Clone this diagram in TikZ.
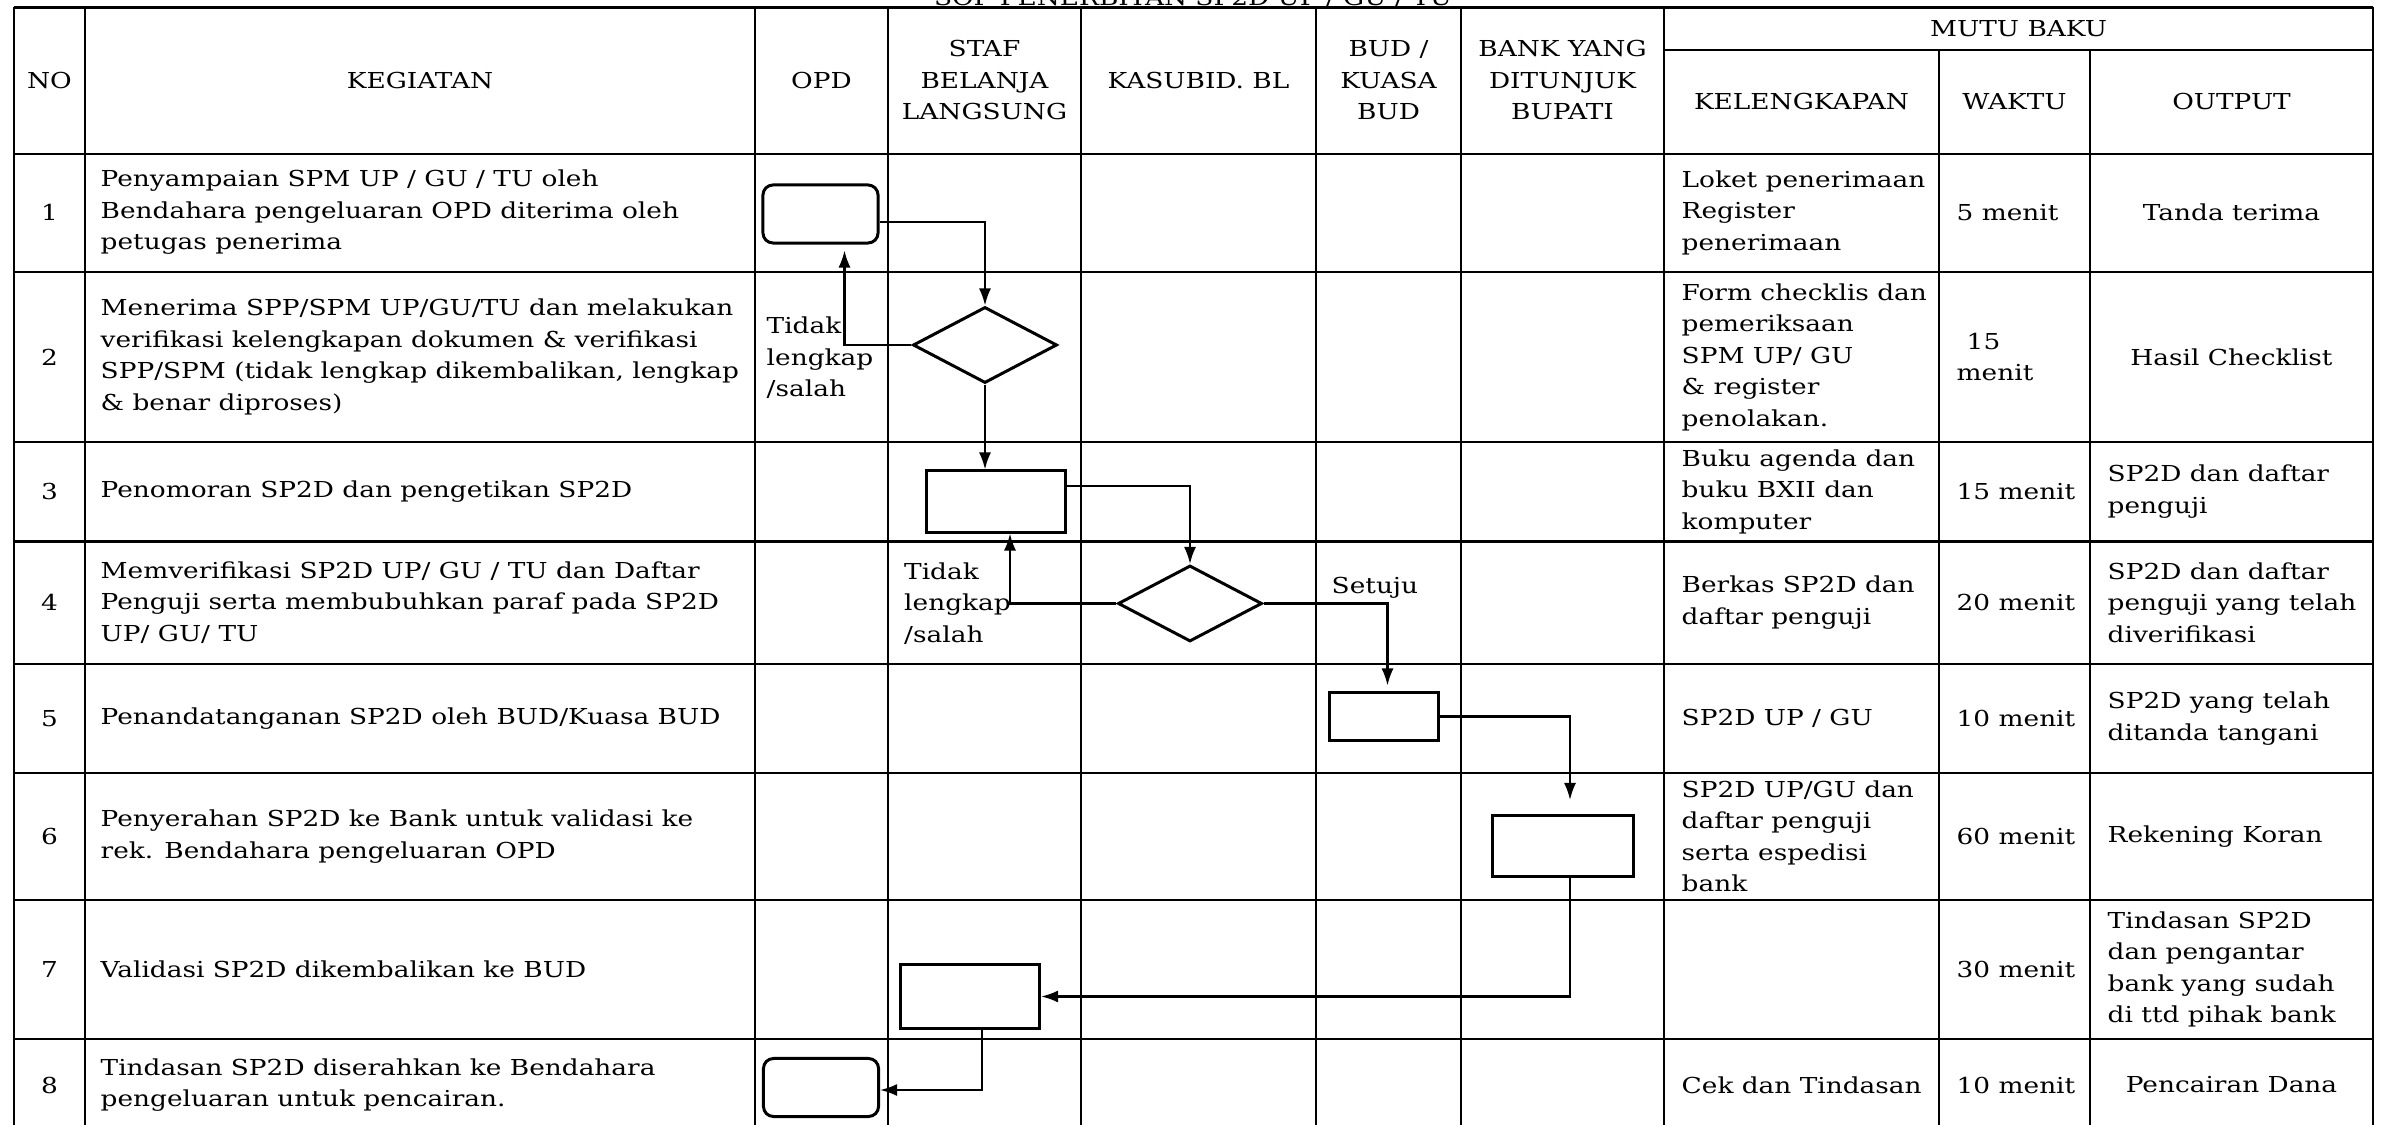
\documentclass[tikz,border=0pt]{standalone}
\usepackage{fontspec}
\setmainfont{DejaVu Serif}[FakeStretch=1.2]
\usetikzlibrary{shapes.geometric,arrows.meta}
\newcommand{\sopfont}{\fontsize{6.25}{8.96}\selectfont}
\begin{document}
\begin{tikzpicture}[x=0.01cm,y=-0.01cm,
  gridline/.style={line width=0.8pt},
  txt/.style={inner sep=0pt, align=left, anchor=west, font=\sopfont},
  ctr/.style={inner sep=0pt, align=center, font=\sopfont},
  opdbox/.style={draw, line width=0.85pt, rounded corners=0.1cm, minimum width=1.15cm, minimum height=0.58cm, inner sep=0pt},
  procbox/.style={draw, line width=0.85pt, inner sep=0pt},
  decision/.style={draw, diamond, line width=0.85pt, minimum width=1.44cm, minimum height=0.76cm, inner sep=0pt},
  conn/.style={line width=0.6pt, -{Latex[length=0.17cm,width=0.12cm]}},
]
\useasboundingbox (0,0) rectangle (2381,1125);
\fill[white] (0,0) rectangle (2381,1125);
% title (partially cut at top, as in the reference)
\node[font=\sopfont, anchor=base, inner sep=0pt] (title) at (1193,6) {SOP PENERBITAN SP2D UP / GU / TU};
% grid
\foreach \yy in {7.5,154,272,442,541.5,664,773,900,1039,1131}
  \draw[gridline] (14,\yy) -- (2373,\yy);
\draw[gridline] (1664,50) -- (2373,50);
\foreach \xx in {14,85,755,888,1081,1316,1461,1664,2373}
  \draw[gridline] (\xx,7.5) -- (\xx,1131);
\foreach \xx in {1939,2090}
  \draw[gridline] (\xx,50) -- (\xx,1131);
% header
\node[ctr] (hno) at (49.5,80.5) {NO};
\node[ctr] (hkeg) at (420,80.5) {KEGIATAN};
\node[ctr] (hopd) at (821.5,80.5) {OPD};
\node[ctr] (hstaf) at (984.5,80.5) {STAF\\BELANJA\\LANGSUNG};
\node[ctr] (hkas) at (1198.5,80.5) {KASUBID. BL};
\node[ctr] (hbud) at (1388.5,80.5) {BUD /\\KUASA\\BUD};
\node[ctr] (hbank) at (1562.5,80.5) {BANK YANG\\DITUNJUK\\BUPATI};
\node[ctr] (hmutu) at (2018.5,28.5) {MUTU BAKU};
\node[ctr] (hkel) at (1801.5,102) {KELENGKAPAN};
\node[ctr] (hwak) at (2014.5,102) {WAKTU};
\node[ctr] (hout) at (2231.5,102) {OUTPUT};
% numbers
\node[ctr] (n1) at (49.5,212.5) {1};
\node[ctr] (n2) at (49.5,357) {2};
\node[ctr] (n3) at (49.5,491.5) {3};
\node[ctr] (n4) at (49.5,602.5) {4};
\node[ctr] (n5) at (49.5,718.5) {5};
\node[ctr] (n6) at (49.5,836.5) {6};
\node[ctr] (n7) at (49.5,969.5) {7};
\node[ctr] (n8) at (49.5,1085) {8};
% kegiatan
\node[txt] (k1) at (100,212.5) {Penyampaian SPM UP / GU / TU oleh\\Bendahara pengeluaran OPD diterima oleh\\petugas penerima};
\node[txt] (k2) at (100,357) {Menerima SPP/SPM UP/GU/TU dan melakukan\\verifikasi kelengkapan dokumen \& verifikasi\\SPP/SPM (tidak lengkap dikembalikan, lengkap\\\& benar diproses)};
\node[txt] (k3) at (100,491.5) {Penomoran SP2D dan pengetikan SP2D};
\node[txt] (k4) at (100,602.5) {Memverifikasi SP2D UP/ GU / TU dan Daftar\\Penguji serta membubuhkan paraf pada SP2D\\UP/ GU/ TU};
\node[txt] (k5) at (100,718.5) {Penandatanganan SP2D oleh BUD/Kuasa BUD};
\node[txt] (k6) at (100,836.5) {Penyerahan SP2D ke Bank untuk validasi ke\\rek. Bendahara pengeluaran OPD};
\node[txt] (k7) at (100,969.5) {Validasi SP2D dikembalikan ke BUD};
\node[txt] (k8) at (100,1085) {Tindasan SP2D diserahkan ke Bendahara\\pengeluaran untuk pencairan.};
% kelengkapan
\node[txt] (e1) at (1681,212.5) {Loket penerimaan\\Register\\penerimaan};
\node[txt] (e2) at (1681,357) {Form checklis dan\\pemeriksaan\\SPM UP/ GU\\\& register\\penolakan.};
\node[txt] (e3) at (1681,491.5) {Buku agenda dan\\buku BXII dan\\komputer};
\node[txt] (e4) at (1681,602.5) {Berkas SP2D dan\\daftar penguji};
\node[txt] (e5) at (1681,718.5) {SP2D UP / GU};
\node[txt] (e6) at (1681,836.5) {SP2D UP/GU dan\\daftar penguji\\serta espedisi\\bank};
\node[txt] (e8) at (1681,1085) {Cek dan Tindasan};
% waktu
\node[txt] (w1) at (1956,212.5) {5 menit};
\node[txt] (w2) at (1956,357) {\hspace{0.1cm}15\\menit};
\node[txt] (w3) at (1956,491.5) {15 menit};
\node[txt] (w4) at (1956,602.5) {20 menit};
\node[txt] (w5) at (1956,718.5) {10 menit};
\node[txt] (w6) at (1956,836.5) {60 menit};
\node[txt] (w7) at (1956,969.5) {30 menit};
\node[txt] (w8) at (1956,1085) {10 menit};
% output
\node[ctr] (o1) at (2231.5,212.5) {Tanda terima};
\node[ctr] (o2) at (2231.5,357) {Hasil Checklist};
\node[txt] (o3) at (2107,491.5) {SP2D dan daftar\\penguji};
\node[txt] (o4) at (2107,602.5) {SP2D dan daftar\\penguji yang telah\\diverifikasi};
\node[txt] (o5) at (2107,718.5) {SP2D yang telah\\ditanda tangani};
\node[txt] (o6) at (2107,836.5) {Rekening Koran};
\node[txt] (o7) at (2107,969.5) {Tindasan SP2D\\dan pengantar\\bank yang sudah\\di ttd pihak bank};
\node[ctr] (o8) at (2231.5,1085) {Pencairan Dana};
% flowchart shapes
\node[opdbox] (b1) at (820.5,214) {};
\node[decision] (d1) at (985,345) {};
\node[procbox, minimum width=1.39cm, minimum height=0.61cm] (b3) at (996,501.5) {};
\node[decision] (d2) at (1190,603.5) {};
\node[procbox, minimum width=1.09cm, minimum height=0.47cm] (b5) at (1384,716.5) {};
\node[procbox, minimum width=1.40cm, minimum height=0.61cm] (b6) at (1563,846) {};
\node[procbox, minimum width=1.39cm, minimum height=0.63cm] (b7) at (970,996.5) {};
\node[opdbox] (b8) at (821,1087.5) {};
% labels
\node[txt] (l1) at (766,358) {Tidak\\lengkap\\/salah};
\node[txt] (l2) at (903.5,603.5) {Tidak\\lengkap\\/salah};
\node[txt] (l3) at (1331,588) {Setuju};
% connectors
\coordinate (xa) at (844.5,0);
\coordinate (xb) at (1010,0);
\draw[conn] ([yshift=-0.08cm]b1.east) -| (d1.north);
\draw[conn, shorten >=0.06cm] (d1.west) -| (xa |- b1.south);
\draw[conn] (d1.south) -- (d1.south |- b3.north);
\draw[conn] ([yshift=0.155cm]b3.east) -| (d2.north);
\draw[conn] (d2.west) -| (xb |- b3.south);
\draw[conn, shorten >=0.06cm] (d2.east) -| ([xshift=0.035cm]b5.north);
\draw[conn, shorten >=0.14cm] (b5.east) -| ([xshift=0.07cm]b6.north);
\draw[conn] ([xshift=0.07cm]b6.south) |- (b7.east);
\draw[conn] ([xshift=0.12cm]b7.south) |- ([yshift=-0.025cm]b8.east);
\end{tikzpicture}
\end{document}
